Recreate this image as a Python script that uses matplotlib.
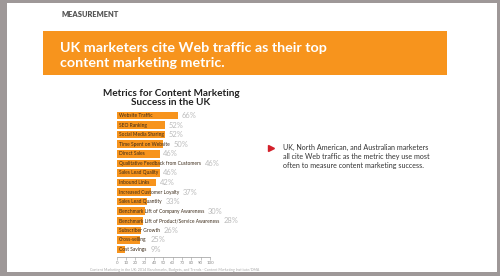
import matplotlib
matplotlib.use("Agg")
import matplotlib.pyplot as plt
from matplotlib.patches import Rectangle
from matplotlib.lines import Line2D

plt.rcParams['font.family'] = ['Lato', 'DejaVu Sans']

metrics = ["Website Traffic", "SEO Ranking", "Social Media Sharing",
           "Time Spent on Website", "Direct Sales",
           "Qualitative Feedback from Customers", "Sales Lead Quality",
           "Inbound Links", "Increased Customer Loyalty", "Sales Lead Quantity",
           "Benchmark Lift of Company Awareness",
           "Benchmark Lift of Product/Service Awareness",
           "Subscriber Growth", "Cross-selling", "Cost Savings"]
shares = [66, 52, 52, 50, 46, 46, 46, 42, 37, 33, 30, 28, 26, 25, 9]
x_ticks = list(range(0, 101, 10))

ORANGE = '#F7941D'
W, H = 500, 276


def fx(px):
    return px / W


def fy(py):
    return 1 - py / H


fig = plt.figure(figsize=(5, 2.76), dpi=100, facecolor='#9E9898')

# white slide
fig.add_artist(Rectangle((fx(7), fy(272)), fx(490), 269 / H,
                         transform=fig.transFigure, facecolor='white',
                         edgecolor='none', zorder=0))

fig.text(fx(62), fy(14.5), "MEASUREMENT", fontsize=5.4, fontweight='heavy',
         color='#555555', va='center')

# orange banner
fig.add_artist(Rectangle((fx(43), fy(75)), fx(404), 44 / H,
                         transform=fig.transFigure, facecolor=ORANGE,
                         edgecolor='none', zorder=1))
fig.text(fx(60), fy(55.5), "UK marketers cite Web traffic as their top\ncontent marketing metric.",
         fontsize=10.3, fontweight='bold', color='white', va='center',
         linespacing=1.3, zorder=2)

# chart title
fig.text(fx(171), fy(98), "Metrics for Content Marketing\nSuccess in the UK",
         fontsize=7.2, fontweight='bold', color='#222222', ha='center',
         va='center', linespacing=0.95)

# bar chart
n = len(metrics)
top, bot = 108, 257.3
c0, step = 115.5, 9.57
ax = fig.add_axes([fx(116.7), fy(bot), fx(93.3), (bot - top) / H])
ypos = list(range(n))
ax.barh(ypos, shares, height=0.78, color=ORANGE, edgecolor='none')
ax.set_xlim(0, 100)
ax.set_ylim((bot - c0) / step, (top - c0) / step)
ax.set_facecolor('none')
for s in ['top', 'right', 'left']:
    ax.spines[s].set_visible(False)
ax.spines['bottom'].set_color('#999999')
ax.spines['bottom'].set_linewidth(0.5)
ax.set_yticks([])
ax.set_xticks(x_ticks)
ax.tick_params(axis='x', length=2, width=0.4, color='#999999',
               labelsize=3.2, labelcolor='#888888', pad=1)

labels = []
for i, (m, v) in enumerate(zip(metrics, shares)):
    t = ax.text(2.5, i, m, fontsize=3.5, color='#3b2a18', va='center',
                ha='left')
    labels.append(t)

fig.canvas.draw()
renderer = fig.canvas.get_renderer()
inv = ax.transData.inverted()
for i, (t, v) in enumerate(zip(labels, shares)):
    bb = t.get_window_extent(renderer)
    end = inv.transform((bb.x1, 0))[0]
    xp = max(v, end) + 4
    ax.text(xp, i, f"{v}%", fontsize=5.4, color='#BBBBBB', va='center',
            ha='left', clip_on=False)

fig.text(fx(90), fy(269.5),
         "Content Marketing in the UK: 2014 Benchmarks, Budgets, and Trends - Content Marketing Institute/DMA",
         fontsize=2.6, color='#aaaaaa', va='center')

# bullet
fig.add_artist(Line2D([fx(271)], [fy(148)], marker='>', markersize=4.5,
                      color='#D3202A', transform=fig.transFigure))
fig.text(fx(283), fy(156.5),
         "UK, North American, and Australian marketers\n"
         "all cite Web traffic as the metric they use most\n"
         "often to measure content marketing success.",
         fontsize=5.1, color='#333333', va='center', linespacing=1.4)

fig.savefig("out.png", dpi=100, facecolor=fig.get_facecolor())
